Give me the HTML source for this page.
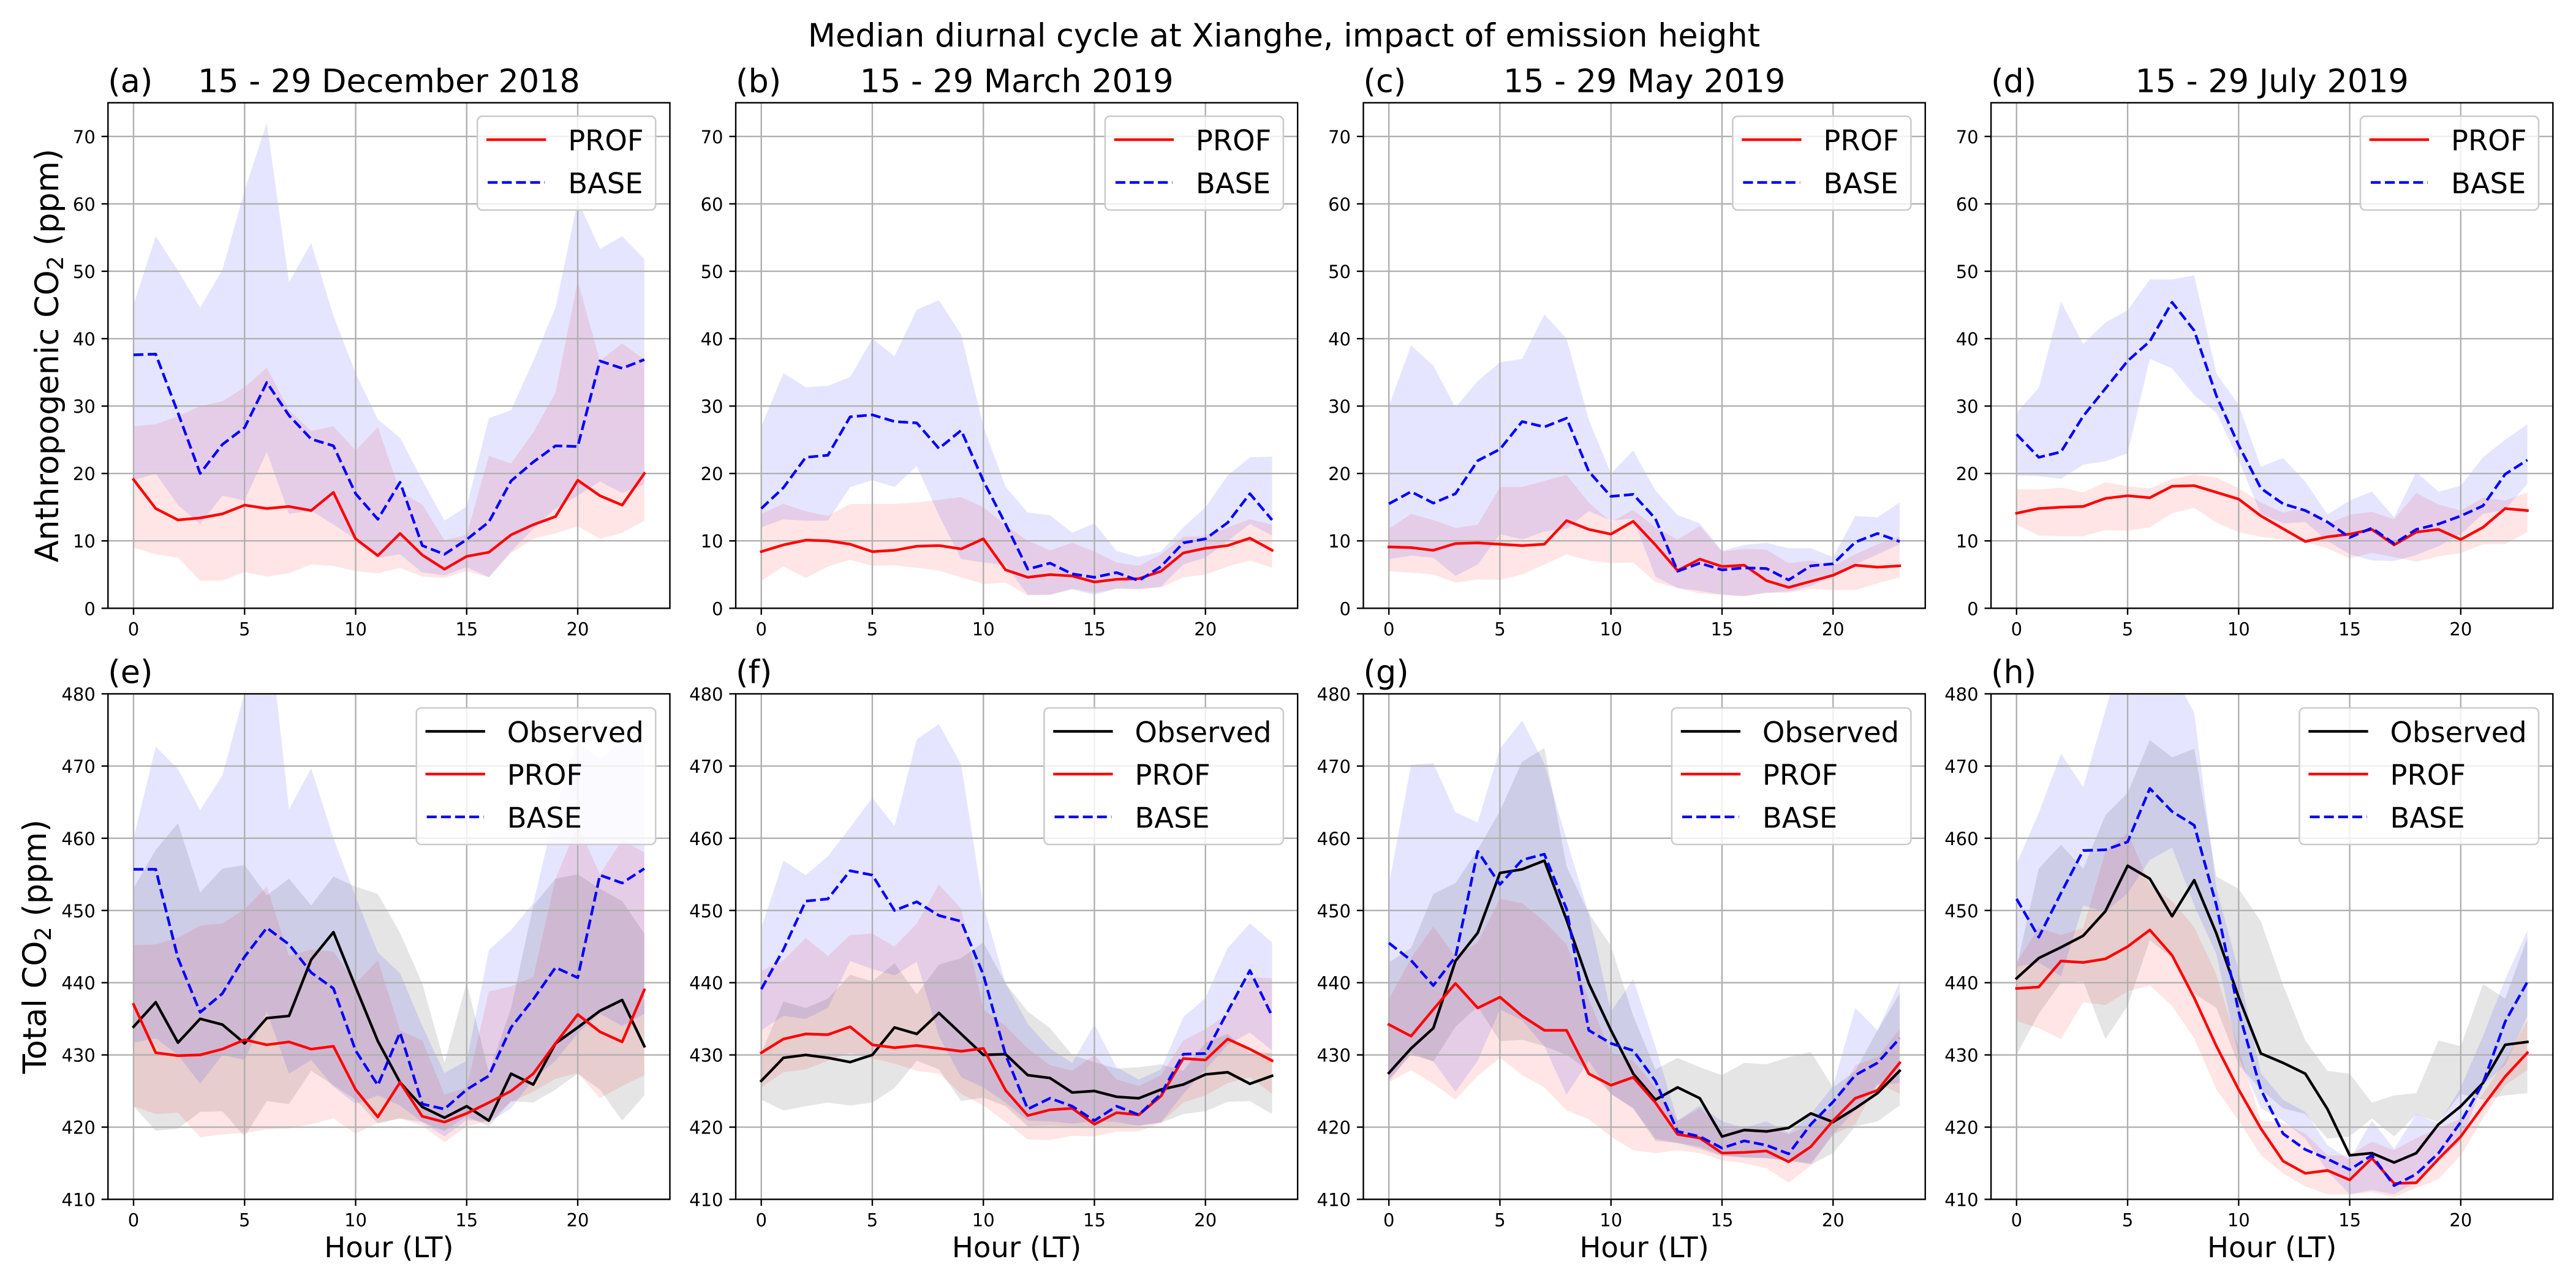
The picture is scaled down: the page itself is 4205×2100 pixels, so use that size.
<!DOCTYPE html>
<html lang="en">
<head>
<meta charset="utf-8">
<title>Median diurnal cycle at Xianghe</title>
<style>
html,body{margin:0;padding:0;background:#fff;width:4205px;height:2100px;overflow:hidden}
svg{display:block}
text{font-family:"DejaVu Sans",sans-serif;fill:#000}
</style>
</head>
<body>
<svg id="chart" xmlns="http://www.w3.org/2000/svg" width="4205" height="2100" viewBox="0 0 4205 2100">
<text x="2096" y="76" font-size="52.4" text-anchor="middle">Median diurnal cycle at Xianghe, impact of emission height</text>
</svg>
<script>
const hours = [0,1,2,3,4,5,6,7,8,9,10,11,12,13,14,15,16,17,18,19,20,21,22,23];
const xTickValues = [0,5,10,15,20];
const yTicksTop = [0,10,20,30,40,50,60,70];
const yTicksBottom = [410,420,430,440,450,460,470,480];

const aProf = [19.1,14.8,13.1,13.4,14.0,15.3,14.8,15.1,14.5,17.2,10.3,7.8,11.1,7.9,5.8,7.7,8.3,10.9,12.4,13.6,19.0,16.7,15.3,20.0];
const aBase = [37.6,37.7,29,20,24.3,26.8,33.5,28.6,25.1,24.1,17,13.2,18.7,9.3,8,10.2,12.8,18.9,21.7,24.1,24,36.7,35.6,36.9];
const aBaseHi = [45,55.2,50.1,44.6,50.2,62,72,48.4,54.2,43.4,34.9,28,25.3,19,13,15.1,28.2,29.4,36.7,44.6,60.5,53.3,55.2,51.8];
const aBaseLo = [19,20,15.3,12.5,16.7,16,23.2,14,14.5,12.4,10.3,7.5,8,5.3,4.9,6.1,4.6,8.4,11.8,14.8,16.7,18.8,17.1,18.4];
const aProfHi = [27,27.3,28.5,30,30.7,32.8,35.7,29.4,26.3,27,23.4,26.9,17.3,15.4,10.1,10.9,22.6,21.5,26.1,32,48.6,36.7,39.3,36.9];
const aProfLo = [9,8,7.5,4.1,4.1,5.4,4.7,5.2,6.5,6.3,5.5,5.2,6,4.7,4.5,5.5,4.6,8.2,10.3,11.1,12.2,10.3,11.2,13];

const bProf = [8.4,9.4,10.1,10,9.5,8.4,8.6,9.2,9.3,8.8,10.3,5.7,4.6,5,4.8,3.9,4.3,4.4,5.5,8.2,8.9,9.3,10.4,8.6];
const bBase = [14.8,17.9,22.4,22.7,28.4,28.7,27.7,27.5,23.7,26.4,18.9,12.5,5.8,6.7,5.1,4.6,5.3,4.1,6.2,9.7,10.3,12.7,17,13.1];
const bBaseHi = [27,34.9,32.8,33,34.3,40,37.4,44.3,45.7,40.6,27,18,14.2,13.8,11.2,12.6,8.5,7.6,8.4,12,15,19.7,22.4,22.5];
const bBaseLo = [12,13.2,13,13,18,19,18,21.1,13.8,7.3,6.8,6.4,2,2,2.8,2,2.9,2.8,3.2,6.5,7.5,10,12.5,10.8];
const bProfHi = [14,15.5,14.4,13.7,15.5,15.5,15.5,15.7,16.1,16.5,15,12.3,10,8.6,9.7,8.4,6.8,6.3,8,10.6,10.7,12,13.2,12.4];
const bProfLo = [4.1,6.2,4.5,6.2,7.2,6.3,6.4,6,5.6,4.6,3.6,3.8,1.9,2,2.9,2.3,2.9,2.9,3.1,4.6,5,6.2,7.1,6];

const cProf = [9.1,9,8.6,9.6,9.7,9.5,9.3,9.5,13,11.7,11,12.9,9.4,5.6,7.3,6.2,6.4,4.1,3.1,4,4.9,6.4,6.1,6.3];
const cBase = [15.5,17.3,15.6,17,21.9,23.6,27.7,26.9,28.2,20.3,16.6,16.9,13.3,5.5,6.7,5.7,6,5.9,4.2,6.3,6.6,9.8,11.1,9.9];
const cBaseHi = [30,39,36,29.8,33.7,36.5,37,43.6,40,28,20,23.4,17.5,13.8,12.6,8.5,9.4,9.7,8.9,8.9,7.6,13.7,13.5,15.7];
const cBaseLo = [7.3,7.8,7.5,4.8,6.5,11,10.2,11.4,11.8,14.4,13,13.3,4.7,3,2.6,2,1.8,2.3,2.5,3.3,4.8,6.5,8,9.5];
const cProfHi = [11.8,14,13.1,11.9,12.4,18,18,18.9,19.8,15.7,12.8,14.6,12,10.2,12.2,8.4,8.8,8.7,6.7,7.1,6.3,8,9.5,10.7];
const cProfLo = [5.5,5.3,5,3.8,4.3,4.2,5,6.5,8,7.1,6.7,6.8,3.9,3,2.2,2,1.8,2.3,2.3,2.9,2.7,2.7,3.7,4.6];

const dProf = [14.1,14.8,15,15.1,16.3,16.7,16.4,18.1,18.2,17.2,16.2,13.7,11.8,9.9,10.6,11,11.7,9.4,11.3,11.7,10.2,12,14.8,14.5];
const dBase = [25.8,22.4,23.2,28.5,32.6,36.7,39.6,45.4,41.2,31.5,24.2,17.8,15.5,14.5,12.8,10.5,11.9,9.6,11.7,12.5,13.7,15.2,19.9,22];
const dBaseHi = [29,32.7,45.5,39.2,42.4,44.2,48.8,48.8,49.4,34.8,30.2,21,22.3,18.8,13.9,16,17.3,13.5,20.2,17.3,18.2,22.4,25,27.3];
const dBaseLo = [19.7,19.6,19.2,21.3,21.8,23,37,35.6,31.6,29,22,14,12.6,12.8,10,8,7.1,7,7.9,9.2,11,14,14.6,18.5];
const dProfHi = [17.7,17.6,17.9,17.2,18.7,18.1,17.8,19.2,19.8,19.4,17.8,15.7,14.2,14.9,12.5,13.9,14.3,13.2,17.1,15.4,14.5,16.4,16,17.2];
const dProfLo = [12.4,10.8,10.7,10.7,11.6,11.5,12,14.1,14.9,12.7,11.3,10.6,10.2,9.8,8.9,7.4,8.2,7.6,6.9,7.7,8.2,9.5,9.5,11.3];

const eObs = [433.9,437.3,431.7,435,434.2,431.6,435.1,435.4,443.2,447,439.4,431.9,426.2,422.8,421.3,422.9,420.9,427.4,425.9,431.6,433.8,436.1,437.6,431.2];
const eProf = [437,430.3,429.9,430,430.8,432.1,431.4,431.8,430.8,431.2,425.2,421.4,426.2,421.5,420.7,421.9,423.4,425,427.4,431.6,435.6,433.2,431.8,439];
const eBase = [455.7,455.7,443.4,435.9,438.5,443.6,447.6,445.3,441.4,439.2,430.6,425.8,433.1,423.2,422.5,425.2,427.1,433.8,437.7,442.1,440.7,454.9,453.8,455.8];
const eObsHi = [453.1,458.4,462.1,452.5,455.8,456.3,452.1,454.4,450.7,454.7,453.3,452.3,446.9,439.9,428.9,440,427.5,436.5,450.7,454.4,455,453,451.3,446.8];
const eObsLo = [422.9,419.5,419.8,422.1,422.2,418.7,423.6,423.2,427.8,425.8,423.8,420.5,421.2,420.7,419.5,421.5,420.1,423.6,423.4,425.2,427.4,425.2,420.9,424.4];
const eBaseHi = [460,472.7,469.6,463.9,468.7,480.2,492,464,469.7,460,451.9,444.2,441.3,434,427.5,429.2,444.5,447.3,451,464,473.4,470.9,473.4,473.4];
const eBaseLo = [431.7,432.3,430,426,430,429.3,436,427.4,429.3,425.6,423.2,424.4,423,420.7,418.7,421,420.7,422.6,426.6,429.2,433,435.7,434,435.7];
const eProfHi = [445.2,445.3,446.2,447.9,448.2,450.2,453.3,443.7,444.6,444.3,439.9,443.1,433.4,432,424.5,425.5,438.8,439.5,440.8,454.4,461.8,455,459.8,458];
const eProfLo = [422.9,421.8,422,418.6,419,419.2,419.7,419.8,420.4,421.2,419.1,420.6,421.2,420.2,417.9,420.1,420.9,423.5,424.9,426.7,427.5,424,425.7,427.2];

const fObs = [426.4,429.6,430,429.6,429,430,433.8,432.9,435.8,432.9,430,430.1,427.2,426.8,424.8,425,424.2,424,425.2,425.9,427.3,427.6,426,427.1];
const fProf = [430.3,432.2,432.9,432.8,433.9,431.4,431,431.3,430.9,430.5,430.9,425.1,421.6,422.4,422.6,420.4,422,421.7,424.3,429.5,429.3,432.2,430.8,429.2];
const fBase = [439.1,444.6,451.3,451.6,455.5,454.9,450,451.2,449.3,448.5,441.1,430,422.5,424,422.9,420.9,422.9,421.7,424.6,430.1,430.2,436,441.7,435.4];
const fObsHi = [430.3,437.4,436.5,437.8,441.1,440.2,442.7,438.4,442.5,443.4,445.6,439.9,436,433.7,430,429,428.1,428.3,428.7,427.8,431.7,432.9,430.3,430.3];
const fObsLo = [423.8,422.3,422.9,423.4,423,423.4,425.4,429.2,428,423.6,424.1,422.9,420.1,420.2,420.1,420.1,420.1,420.2,420.6,421.8,422.2,423.5,423.6,421.8];
const fBaseHi = [447.6,456.9,454.9,457.5,461.5,465.6,461.7,473.7,475.8,470.2,450.7,439.9,434.3,430.9,428.9,434.2,428.3,426.6,428,435.2,437.9,444.8,448.2,445.6];
const fBaseLo = [433.4,435.4,435,436.5,443,441.9,441,442.9,432.6,426.9,425.5,423.4,420.9,420.8,420.5,420.8,420.7,420.2,420.7,424.6,428,431.4,433.1,430.6];
const fProfHi = [441.6,443.1,446.2,443.7,446.6,446.8,445,448.2,453.6,450.2,436.3,434,430.9,428.6,427.8,430,426.6,425.7,427.2,432,433.6,435.7,440.8,440.6];
const fProfLo = [425.5,427.6,428,429.2,430.3,429.5,428.8,427.8,427.4,424.6,423,420.7,418.3,418.2,418.8,418.7,419.4,419.4,420.6,423.4,424.4,426.1,426.9,424.6];

const gObs = [427.5,430.9,433.7,443,446.9,455.2,455.7,456.9,448.7,439.9,433.4,427.4,423.8,425.5,424,418.7,419.6,419.4,419.9,421.9,420.7,422.6,424.7,427.8];
const gProf = [434.2,432.6,436.3,439.9,436.5,438,435.4,433.4,433.4,427.4,425.8,426.9,423.4,419,418.5,416.4,416.5,416.7,415.2,417.3,420.9,424,425.1,428.9];
const gBase = [445.5,443.1,439.6,443.6,458.2,453.6,457,457.8,450.2,433.4,431.6,430.6,426.4,419.4,418.7,417.1,418.1,417.5,416.3,420.4,423.5,427.2,428.9,432.3];
const gObsHi = [442.8,444.8,452.3,453.8,458.4,463.8,470.6,472.5,456.1,449.6,445.1,435.4,428,429.6,428.3,427.2,428.9,428.7,429.7,430.4,425.5,427.8,433.4,438.5];
const gObsLo = [426.6,430,429.1,433.9,436.7,431.9,432.1,431.2,430,427.8,424.6,422.6,418.1,417.8,417,416,415.8,415.7,415.4,414.8,416.4,420.1,420.8,423];
const gBaseHi = [453.6,470.2,470.4,463.6,462.2,472.4,476.3,470.3,459.8,449.6,436,440.5,431.2,420.9,423,420.8,419.9,420.8,419.2,421.8,425.7,436.5,433.4,440.1];
const gBaseLo = [426.3,430.3,429.1,424.9,429.2,436.3,434.8,431.2,424.5,429.2,424.6,422.6,418.4,417.8,417.3,416.1,415.8,415.7,415.3,415,419,422.4,425.8,426.1];
const gProfHi = [437.7,443.4,447.8,443.6,445.6,451.6,451,448.5,445.3,437.7,430.3,429.2,425.5,420.9,422.6,419.8,419.8,420.1,419,420.4,422.9,428.6,429.7,433.6];
const gProfLo = [426.2,427.9,426,423.8,427.1,429.6,427.2,425.5,422.3,421.1,418.7,416.8,416.4,416.8,416.4,415.4,415,414.3,412.3,414.7,419,420.4,426.1,424.6];

const hObs = [440.6,443.4,444.9,446.5,449.9,456.2,454.4,449.2,454.2,446.8,438,430.2,428.9,427.4,422.5,416.1,416.4,415.1,416.4,420.4,422.9,426.1,431.4,431.8];
const hProf = [439.2,439.4,443,442.8,443.3,445,447.3,443.8,437.9,431.2,425.2,419.8,415.3,413.6,414,412.7,415.7,412.2,412.3,415.6,418.7,422.9,427,430.3];
const hBase = [451.6,446.3,452.4,458.3,458.4,459.5,466.9,463.7,461.8,450.7,436,425.2,419.1,416.9,415.6,414.1,416.1,411.9,413.5,416.4,420.7,426.1,434.6,440.1];
const hObsHi = [442.2,455.8,459.1,455.8,463.2,466.3,473.6,471.2,472.4,454.7,453,448.5,439.7,432,427.8,427.4,423.4,424.4,424.7,432,431.2,439.8,437.8,446.2];
const hObsLo = [430,435.7,440,440.2,432.2,436.8,445.9,443.4,438.5,436.5,428.6,425.2,422.6,421.8,418.4,418.7,421.2,418.7,421.7,420.7,424.6,423.8,424.4,424.7];
const hBaseHi = [456.5,463.5,471.7,467.1,477.7,488,490,483,477.4,453,441.7,427.5,423.8,422.1,417.5,415.5,420.9,417,421.8,420.5,425.5,432.6,440.5,447.2];
const hBaseLo = [442.2,442.8,440.9,450.7,449.8,452.4,457,458.7,450.7,443.9,429.7,422.6,420.9,418.4,413.9,410.7,411.3,410.7,412.4,415.4,418.1,425.8,428.6,435.4];
const hProfHi = [442.8,447.6,446.6,447.6,458.1,460.8,453.6,451.3,447.7,441.1,430.9,420.9,420.6,419.1,416.1,416.1,418,416.8,418.5,419.8,421.2,424.6,429.2,434.8];
const hProfLo = [434.7,433.7,432.2,437.3,436.9,438.8,439.6,436.8,432.3,425.2,420.9,416.1,413.6,411.8,410.7,410.7,411,410.3,411.6,412.8,416.1,421.2,425.8,427.9];

const panels = [
 {id:'a',month:'15 - 29 December 2018',prof:aProf,base:aBase,profHi:aProfHi,profLo:aProfLo,baseHi:aBaseHi,baseLo:aBaseLo},
 {id:'b',month:'15 - 29 March 2019',prof:bProf,base:bBase,profHi:bProfHi,profLo:bProfLo,baseHi:bBaseHi,baseLo:bBaseLo},
 {id:'c',month:'15 - 29 May 2019',prof:cProf,base:cBase,profHi:cProfHi,profLo:cProfLo,baseHi:cBaseHi,baseLo:cBaseLo},
 {id:'d',month:'15 - 29 July 2019',prof:dProf,base:dBase,profHi:dProfHi,profLo:dProfLo,baseHi:dBaseHi,baseLo:dBaseLo},
 {id:'e',obs:eObs,obsHi:eObsHi,obsLo:eObsLo,prof:eProf,base:eBase,profHi:eProfHi,profLo:eProfLo,baseHi:eBaseHi,baseLo:eBaseLo},
 {id:'f',obs:fObs,obsHi:fObsHi,obsLo:fObsLo,prof:fProf,base:fBase,profHi:fProfHi,profLo:fProfLo,baseHi:fBaseHi,baseLo:fBaseLo},
 {id:'g',obs:gObs,obsHi:gObsHi,obsLo:gObsLo,prof:gProf,base:gBase,profHi:gProfHi,profLo:gProfLo,baseHi:gBaseHi,baseLo:gBaseLo},
 {id:'h',obs:hObs,obsHi:hObsHi,obsLo:hObsLo,prof:hProf,base:hBase,profHi:hProfHi,profLo:hProfLo,baseHi:hBaseHi,baseLo:hBaseLo}
];

const svg = document.getElementById('chart');
const NS = 'http://www.w3.org/2000/svg';
const AXIS_W = 917.2, AXIS_H = 825.5;
const LEFTS = [176.3,1201,2225.5,3250.1];
const TOPS = [167.8,1133];
const LINE_W = 4.35, THIN = 2.4;
const DASH = '16.1 7';

function make(parent, tag, attrs, text){
  const n = document.createElementNS(NS, tag);
  for (const k in attrs) n.setAttribute(k, attrs[k]);
  if (text !== undefined) n.textContent = text;
  parent.appendChild(n);
  return n;
}

panels.forEach(function(p, idx){
  const col = idx % 4, row = idx < 4 ? 0 : 1;
  const L = LEFTS[col], T = TOPS[row], R = L + AXIS_W, B = T + AXIS_H;
  const yMin = row === 0 ? 0 : 410, yMax = row === 0 ? 75 : 480;
  const yTicks = row === 0 ? yTicksTop : yTicksBottom;
  const xScale = function(v){ return L + (v + 1.15) / 25.3 * AXIS_W; };
  const yScale = function(v){ return B - (v - yMin) / (yMax - yMin) * AXIS_H; };

  const g = make(svg, 'g', {});
  
  

  const defs = make(g, 'defs', {});
  const clip = make(defs, 'clipPath', {id:'clip-' + p.id});
  make(clip, 'rect', {x:L, y:T, width:AXIS_W, height:AXIS_H});

  const plot = make(g, 'g', {'clip-path':'url(#clip-' + p.id + ')'});
  
  

  function band(hi, lo, color, alpha, name){
    let d = '';
    hours.forEach(function(h, i){ d += (i ? 'L' : 'M') + xScale(h).toFixed(1) + ' ' + yScale(hi[i]).toFixed(1); });
    for (let i = hours.length - 1; i >= 0; i--) d += 'L' + xScale(hours[i]).toFixed(1) + ' ' + yScale(lo[i]).toFixed(1);
    const b = make(plot, 'path', {d:d + 'Z', fill:color, 'fill-opacity':alpha, stroke:'none'});
    
    
  }
  if (p.obs) band(p.obsHi, p.obsLo, '#000000', 0.1, 'observed-range-band');
  band(p.profHi, p.profLo, '#ff0000', 0.1, 'prof-range-band');
  band(p.baseHi, p.baseLo, '#0000ff', 0.1, 'base-range-band');

  xTickValues.forEach(function(v){
    const gl = make(plot, 'line', {x1:xScale(v), x2:xScale(v), y1:T, y2:B, stroke:'#b0b0b0', 'stroke-width':THIN});
    
    
  });
  yTicks.forEach(function(v){
    const gl = make(plot, 'line', {x1:L, x2:R, y1:yScale(v), y2:yScale(v), stroke:'#b0b0b0', 'stroke-width':THIN});
    
    
  });

  function series(vals, color, dash, name){
    const pts = hours.map(function(h, i){ return xScale(h).toFixed(1) + ',' + yScale(vals[i]).toFixed(1); }).join(' ');
    const a = {points:pts, fill:'none', stroke:color, 'stroke-width':LINE_W, 'stroke-linejoin':'round'};
    if (dash) a['stroke-dasharray'] = DASH; else a['stroke-linecap'] = 'square';
    const s = make(plot, 'polyline', a);
    
    
  }
  if (p.obs) series(p.obs, '#000000', false, 'observed-line');
  series(p.prof, '#ff0000', false, 'prof-line');
  series(p.base, '#0000ff', true, 'base-line');

  const frame = make(g, 'rect', {x:L, y:T, width:AXIS_W, height:AXIS_H, fill:'none', stroke:'#000', 'stroke-width':THIN});
  
  

  xTickValues.forEach(function(v){
    const t = make(g, 'line', {x1:xScale(v), x2:xScale(v), y1:B, y2:B + 10.6, stroke:'#000', 'stroke-width':THIN});
    
    
    const lb = make(g, 'text', {x:xScale(v), y:B + 44, 'font-size':29, 'text-anchor':'middle'}, String(v));
    
    
  });
  yTicks.forEach(function(v){
    const t = make(g, 'line', {x1:L - 10.6, x2:L, y1:yScale(v), y2:yScale(v), stroke:'#000', 'stroke-width':THIN});
    
    
    const lb = make(g, 'text', {x:L - 20.5, y:yScale(v) + 11, 'font-size':29, 'text-anchor':'end'}, String(v));
    
    
  });

  const tag = make(g, 'text', {x:L, y:T - 17.4, 'font-size':52.4}, '(' + p.id + ')');
  
  
  if (p.month) {
    const mt = make(g, 'text', {x:L + AXIS_W / 2, y:T - 17.4, 'font-size':52.4, 'text-anchor':'middle'}, p.month);
    
    
  }
  if (row === 1) {
    const xl = make(g, 'text', {x:L + AXIS_W / 2, y:2053, 'font-size':46.6, 'text-anchor':'middle'}, 'Hour (LT)');
    
    
  }
  if (col === 0) {
    const ylX = row === 0 ? 95 : 75;
    const ylY = T + AXIS_H / 2;
    const yl = make(g, 'text', {x:ylX, y:ylY, 'font-size':52.4, 'text-anchor':'middle', transform:'rotate(-90 ' + ylX + ' ' + ylY + ')'});
    
    
    make(yl, 'tspan', {}, (row === 0 ? 'Anthropogenic' : 'Total') + ' CO');
    make(yl, 'tspan', {dy:8, 'font-size':36.7}, '2');
    make(yl, 'tspan', {dy:-8}, ' (ppm)');
  }

  const rows = p.obs ? [['Observed','#000000',false],['PROF','#ff0000',false],['BASE','#0000ff',true]] : [['PROF','#ff0000',false],['BASE','#0000ff',true]];
  const legW = p.obs ? 390.5 : 291, legH = p.obs ? 223 : 153.2;
  const legX = R - 23.3 - legW, legY = T + (row === 0 ? 22 : 23);
  const leg = make(g, 'g', {});
  
  
  const box = make(leg, 'rect', {x:legX, y:legY, width:legW, height:legH, rx:8, ry:8, fill:'#fff', 'fill-opacity':0.8, stroke:'#cccccc', 'stroke-width':2.6});
  
  
  rows.forEach(function(r, i){
    const cy = legY + 38.3 + i * 69.8;
    const sw = {x1:legX + 17, x2:legX + 17 + 93, y1:cy, y2:cy, stroke:r[1], 'stroke-width':LINE_W};
    if (r[2]) sw['stroke-dasharray'] = DASH; else sw['stroke-linecap'] = 'square';
    const ln = make(leg, 'line', sw);
    
    
    const tx = make(leg, 'text', {x:legX + 148, y:cy + 17.5, 'font-size':46.4}, r[0]);
    
    
  });
});
</script>
</body>
</html>
